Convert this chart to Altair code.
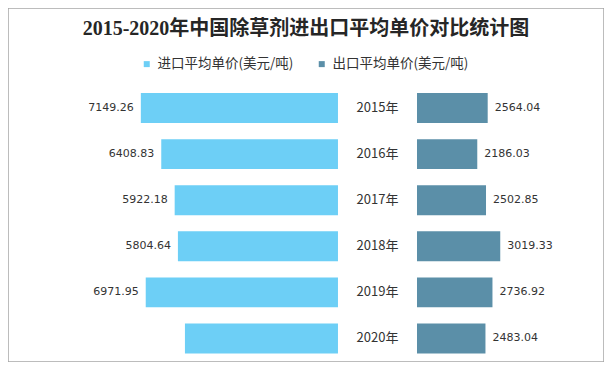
import altair as alt
import pandas as pd

years = ["2015年", "2016年", "2017年", "2018年", "2019年", "2020年"]
import_price = [7149.26, 6408.83, 5922.18, 5804.64, 6971.95, 5550.0]
export_price = [2564.04, 2186.03, 2502.85, 3019.33, 2736.92, 2483.04]
import_labels = ["7149.26", "6408.83", "5922.18", "5804.64", "6971.95", ""]
export_labels = ["2564.04", "2186.03", "2502.85", "3019.33", "2736.92", "2483.04"]
series = ["进口平均单价(美元/吨)", "出口平均单价(美元/吨)"]
colors = ["#6DCFF6", "#5B8FA8"]

df = pd.DataFrame({
    "year": years * 2,
    "series": [series[0]] * len(years) + [series[1]] * len(years),
    "side": [-1] * len(years) + [1] * len(years),
    "value": import_price + export_price,
    "label": import_labels + export_labels,
})

GAP = 1433
FONT = "Noto Sans CJK SC"
NUMFONT = "DejaVu Sans"

base = alt.Chart(df).transform_calculate(
    start=f"datum.side * {GAP}",
    end=f"datum.side * ({GAP} + datum.value)",
)

x_scale = alt.Scale(domain=[-13400, 8215], nice=False, zero=False)
y_scale = alt.Scale(domain=years, range=[77, 353.5], paddingInner=0.35, paddingOuter=0.175)

bars = base.mark_bar().encode(
    x=alt.X("start:Q", scale=x_scale, axis=None),
    x2="end:Q",
    y=alt.Y("year:N", scale=y_scale, axis=None),
    color=alt.Color(
        "series:N",
        scale=alt.Scale(domain=series, range=colors),
        legend=alt.Legend(
            title=None,
            orient="none",
            legendX=132,
            legendY=49,
            direction="horizontal",
            symbolType="square",
            symbolSize=36,
            symbolStrokeWidth=0,
            labelFont=FONT,
            labelFontSize=13.5,
            labelColor="#333333",
            labelOffset=4,
            columnPadding=21,
            labelLimit=300,
        ),
    ),
)

imp_text = base.transform_filter("datum.side < 0").mark_text(
    align="right", baseline="middle", dx=-7, font=NUMFONT, fontSize=11, color="#333333"
).encode(x="end:Q", y=alt.Y("year:N"), text="label:N")

exp_text = base.transform_filter("datum.side > 0").mark_text(
    align="left", baseline="middle", dx=7, font=NUMFONT, fontSize=11, color="#333333"
).encode(x="end:Q", y=alt.Y("year:N"), text="label:N")

year_text = alt.Chart(pd.DataFrame({"year": years})).mark_text(
    align="center", baseline="middle", font=FONT, fontSize=13, color="#333333"
).encode(x=alt.datum(0), y=alt.Y("year:N"), text="year:N")

chart = alt.layer(bars, imp_text, exp_text, year_text).properties(
    width=596,
    height=354,
    padding=0,
    autosize=alt.AutoSizeParams(type="none"),
    title=alt.TitleParams(
        "2015-2020年中国除草剂进出口平均单价对比统计图",
        font="Liberation Serif, Noto Sans CJK SC",
        fontSize=20,
        fontWeight="bold",
        color="#262626",
        anchor="middle",
        offset=-31,
    ),
).configure_view(stroke="#A6A6A6", strokeWidth=1.5)

chart.save("out.html", embed_options={"renderer": "svg", "actions": False})
